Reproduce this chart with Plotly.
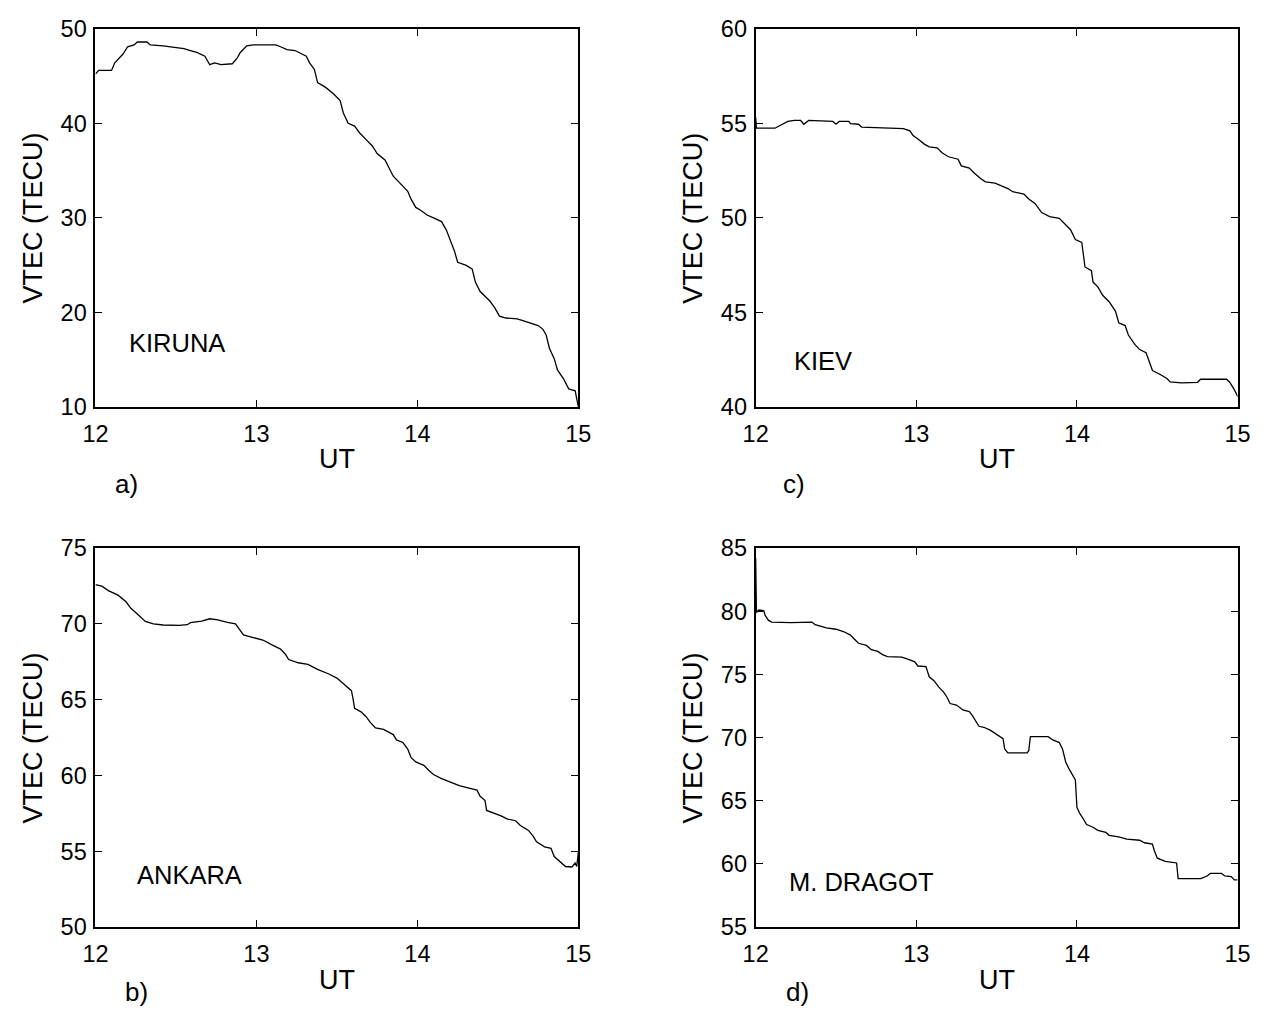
import plotly.graph_objects as go

# ---------------- data ----------------
kiruna_ut = [12.0, 12.02, 12.1, 12.12, 12.17, 12.2, 12.24, 12.26, 12.32, 12.34, 12.42, 12.49, 12.55, 12.59,
             12.63, 12.68, 12.70, 12.71, 12.74, 12.78, 12.85, 12.88, 12.90, 12.92, 12.94, 12.98, 13.08, 13.12,
             13.15, 13.19, 13.24, 13.29, 13.31, 13.33, 13.36, 13.38, 13.43, 13.48, 13.52, 13.54, 13.57, 13.61,
             13.64, 13.68, 13.72, 13.75, 13.80, 13.82, 13.85, 13.89, 13.94, 13.96, 13.99, 14.02, 14.06, 14.10,
             14.15, 14.18, 14.21, 14.23, 14.25, 14.30, 14.34, 14.36, 14.39, 14.42, 14.45, 14.48, 14.51, 14.55,
             14.62, 14.66, 14.71, 14.75, 14.78, 14.80, 14.82, 14.85, 14.87, 14.91, 14.94, 14.98, 15.0]
kiruna_vtec = [45.2, 45.6, 45.6, 46.4, 47.3, 48.1, 48.3, 48.6, 48.6, 48.3, 48.2, 48.0, 47.9, 47.7,
               47.5, 47.1, 46.4, 46.2, 46.4, 46.2, 46.3, 46.9, 47.5, 47.8, 48.2, 48.3, 48.35, 48.3,
               48.1, 47.8, 47.7, 47.3, 47.1, 46.4, 45.7, 44.3, 43.8, 43.1, 42.4, 41.1, 40.0, 39.7,
               39.0, 38.3, 37.6, 36.8, 36.1, 35.4, 34.4, 33.7, 32.8, 32.0, 31.1, 30.8, 30.3, 30.0,
               29.6, 28.7, 27.5, 26.5, 25.3, 25.0, 24.6, 23.2, 22.2, 21.7, 21.2, 20.5, 19.6, 19.4,
               19.3, 19.1, 18.8, 18.6, 18.2, 17.6, 16.2, 15.1, 13.9, 12.9, 11.9, 11.7, 10.0]

kiev_ut = [12.0, 12.005, 12.12, 12.15, 12.2, 12.24, 12.28, 12.3, 12.33, 12.48, 12.5, 12.52, 12.58, 12.59,
           12.64, 12.66, 12.78, 12.92, 12.96, 12.98, 13.01, 13.05, 13.08, 13.13, 13.16, 13.2, 13.26, 13.28,
           13.33, 13.36, 13.4, 13.43, 13.49, 13.53, 13.57, 13.6, 13.67, 13.7, 13.74, 13.78, 13.83, 13.89,
           13.92, 13.96, 13.99, 14.03, 14.05, 14.09, 14.1, 14.13, 14.16, 14.2, 14.24, 14.26, 14.3, 14.32,
           14.36, 14.39, 14.43, 14.45, 14.47, 14.51, 14.56, 14.58, 14.65, 14.75, 14.77, 14.93, 14.95, 14.98, 15.0]
kiev_vtec = [55.3, 54.74, 54.74, 54.86, 55.1, 55.15, 55.15, 54.95, 55.15, 55.1, 54.95, 55.1, 55.1, 54.98,
             54.95, 54.8, 54.78, 54.72, 54.6, 54.35, 54.17, 53.9, 53.75, 53.7, 53.44, 53.23, 53.1, 52.75,
             52.63, 52.37, 52.08, 51.9, 51.83, 51.7, 51.55, 51.38, 51.26, 51.0, 50.75, 50.28, 50.06, 49.97,
             49.7, 49.37, 48.85, 48.7, 47.4, 47.2, 46.6, 46.35, 45.9, 45.56, 45.05, 44.45, 44.3, 43.8,
             43.3, 43.03, 42.86, 42.43, 41.92, 41.75, 41.5, 41.32, 41.27, 41.3, 41.46, 41.46, 41.32, 40.9, 40.55]

ankara_ut = [12.0, 12.04, 12.08, 12.14, 12.19, 12.22, 12.26, 12.31, 12.36, 12.42, 12.52, 12.57, 12.59, 12.66,
             12.71, 12.76, 12.82, 12.87, 12.89, 12.92, 12.98, 13.04, 13.1, 13.15, 13.18, 13.2, 13.26, 13.32,
             13.38, 13.45, 13.5, 13.53, 13.57, 13.59, 13.6, 13.61, 13.65, 13.68, 13.71, 13.74, 13.79, 13.85,
             13.87, 13.91, 13.94, 13.96, 13.99, 14.04, 14.07, 14.1, 14.15, 14.2, 14.26, 14.32, 14.37, 14.39,
             14.42, 14.43, 14.47, 14.52, 14.56, 14.61, 14.64, 14.69, 14.72, 14.74, 14.79, 14.83, 14.85, 14.89,
             14.92, 14.96, 14.98, 14.99, 15.0]
ankara_vtec = [72.6, 72.49, 72.2, 71.9, 71.46, 71.03, 70.66, 70.17, 70.0, 69.93, 69.9, 69.95, 70.08, 70.19,
               70.34, 70.27, 70.1, 70.0, 69.7, 69.27, 69.1, 68.94, 68.6, 68.34, 68.0, 67.65, 67.44, 67.33,
               67.0, 66.7, 66.43, 66.15, 65.83, 65.6, 65.08, 64.43, 64.2, 63.9, 63.47, 63.14, 63.04, 62.7,
               62.35, 62.18, 61.75, 61.2, 60.9, 60.67, 60.35, 60.07, 59.8, 59.6, 59.34, 59.17, 59.04, 58.63,
               58.35, 57.7, 57.56, 57.34, 57.13, 57.02, 56.7, 56.38, 55.99, 55.63, 55.3, 55.2, 54.66, 54.27,
               54.0, 53.97, 54.23, 54.0, 54.97]

dragot_ut = [12.0, 12.005, 12.02, 12.05, 12.06, 12.08, 12.1, 12.22, 12.35, 12.37, 12.44, 12.5, 12.55, 12.59,
             12.62, 12.64, 12.69, 12.72, 12.76, 12.79, 12.82, 12.91, 12.96, 12.99, 13.01, 13.06, 13.08, 13.11,
             13.14, 13.17, 13.19, 13.21, 13.25, 13.29, 13.33, 13.35, 13.39, 13.42, 13.46, 13.5, 13.54, 13.55,
             13.57, 13.69, 13.70, 13.71, 13.82, 13.85, 13.89, 13.91, 13.93, 13.95, 13.97, 13.99, 14.0, 14.02,
             14.04, 14.06, 14.1, 14.13, 14.18, 14.2, 14.26, 14.31, 14.39, 14.42, 14.47, 14.48, 14.5, 14.55,
             14.62, 14.63, 14.77, 14.81, 14.83, 14.9, 14.92, 14.96, 14.98, 15.0]
dragot_vtec = [84.2, 79.9, 80.1, 80.05, 79.66, 79.28, 79.15, 79.1, 79.15, 78.94, 78.69, 78.58, 78.38, 78.12,
               77.73, 77.47, 77.3, 76.96, 76.83, 76.57, 76.42, 76.37, 76.16, 76.0, 75.67, 75.62, 74.82, 74.51,
               74.0, 73.6, 73.22, 72.7, 72.58, 72.19, 72.06, 71.73, 70.9, 70.82, 70.59, 70.26, 69.92, 69.1,
               68.79, 68.79, 68.97, 70.08, 70.08, 69.82, 69.61, 69.1, 68.07, 67.55, 67.04, 66.65, 64.46, 63.94,
               63.56, 63.12, 62.91, 62.66, 62.5, 62.27, 62.14, 61.96, 61.88, 61.68, 61.57, 61.11, 60.46, 60.21,
               60.08, 58.84, 58.84, 59.05, 59.25, 59.25, 59.05, 59.0, 58.74, 58.74]

x_ticks = [12, 13, 14, 15]
panels = [
    # (station, panel label, ut, vtec, y range, y ticks, name position)
    ("KIRUNA", "a)", kiruna_ut, kiruna_vtec, [10, 50], [10, 20, 30, 40, 50], (12.195, 16.8)),
    ("KIEV", "c)", kiev_ut, kiev_vtec, [40, 60], [40, 45, 50, 55, 60], (12.225, 42.4)),
    ("ANKARA", "b)", ankara_ut, ankara_vtec, [50, 75], [50, 55, 60, 65, 70, 75], (12.243, 53.45)),
    ("M. DRAGOT", "d)", dragot_ut, dragot_vtec, [55, 85], [55, 60, 65, 70, 75, 80, 85], (12.195, 58.6)),
]

# ---------------- layout ----------------
OFF = 8                     # page body margin
W, H = 1280 - OFF, 1022 - OFF
x_doms = [(84, 577), (758, 1250), (84, 577), (758, 1250)]   # screen px
y_doms = [(16, 404), (16, 404), (549, 938), (549, 938)]
label_pos = [(116, 483), (797, 483), (126, 1005), (801, 1005)]


def px(x):
    return (x - OFF) / W


def py(y):
    return 1 - (y - OFF) / H


FONT = "Liberation Sans, Arial, Helvetica, sans-serif"
fig = go.Figure()
annotations = []
for i, (name, lab, ut, vt, yr, yt, npos) in enumerate(panels):
    n = "" if i == 0 else str(i + 1)
    fig.add_trace(go.Scatter(x=ut, y=vt, mode="lines", line=dict(color="black", width=1.3),
                             xaxis="x" + n, yaxis="y" + n, showlegend=False))
    x0, x1 = x_doms[i]
    y0, y1 = y_doms[i]
    common = dict(showline=True, linecolor="black", linewidth=2, mirror="ticks", ticks="inside",
                  ticklen=7, tickwidth=1.3, tickcolor="black", showgrid=False, zeroline=False,
                  tickfont=dict(family=FONT, size=23.5, color="black"))
    fig.update_layout(**{
        "xaxis" + n: dict(domain=[px(x0), px(x1)], range=[12, 15], tickvals=x_ticks,
                          anchor="y" + n, ticklabelstandoff=5, **common),
        "yaxis" + n: dict(domain=[py(y1), py(y0)], range=yr, tickvals=yt,
                          anchor="x" + n, ticklabelstandoff=2, **common),
    })
    # station name
    annotations.append(dict(x=npos[0], y=npos[1], xref="x" + n, yref="y" + n, text=name,
                            showarrow=False, xanchor="left", yanchor="middle",
                            font=dict(family=FONT, size=25.5, color="black")))
    # axis titles
    annotations.append(dict(x=px((x0 + x1) / 2), y=py(y1 + 54), xref="paper", yref="paper",
                            text="UT", showarrow=False, xanchor="center", yanchor="middle",
                            font=dict(family=FONT, size=27, color="black")))
    annotations.append(dict(x=px(x0 - 64), y=py((y0 + y1) / 2), xref="paper", yref="paper",
                            text="VTEC (TECU)", textangle=-90, showarrow=False,
                            xanchor="center", yanchor="middle",
                            font=dict(family=FONT, size=27, color="black")))
    annotations.append(dict(x=px(label_pos[i][0]), y=py(label_pos[i][1]), xref="paper", yref="paper",
                            text=lab, showarrow=False, xanchor="center", yanchor="middle",
                            font=dict(family=FONT, size=26, color="black")))

fig.update_layout(width=W, height=H, margin=dict(l=0, r=0, t=0, b=0),
                  paper_bgcolor="white", plot_bgcolor="white", annotations=annotations)

fig.write_html("out.html")
